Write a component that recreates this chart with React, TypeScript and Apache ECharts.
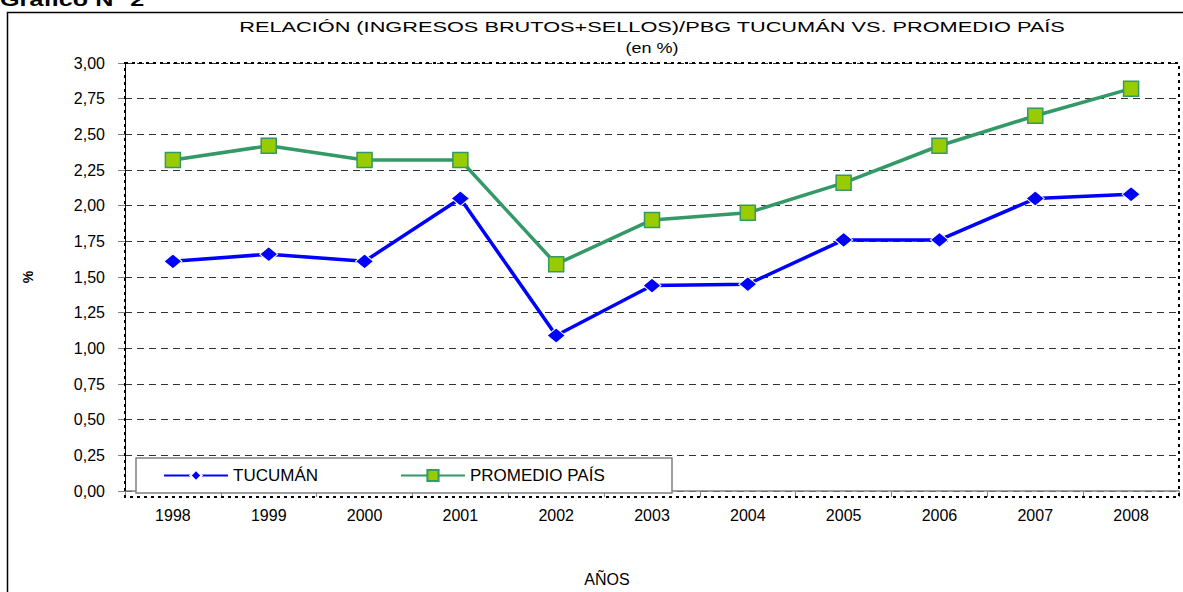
import React, { useEffect, useRef } from "react";
import * as echarts from "echarts";

const years = ["1998", "1999", "2000", "2001", "2002", "2003", "2004", "2005", "2006", "2007", "2008"];
const tucuman = [1.61, 1.66, 1.61, 2.05, 1.09, 1.44, 1.45, 1.76, 1.76, 2.05, 2.08];
const promedio = [2.32, 2.42, 2.32, 2.32, 1.59, 1.9, 1.95, 2.16, 2.42, 2.63, 2.82];
const titleText = "RELACIÓN (INGRESOS BRUTOS+SELLOS)/PBG TUCUMÁN VS. PROMEDIO PAÍS";
const subtitleText = "(en %)";
const chartLabel = "Gráfico N° 2";

const FONT = "'Liberation Sans', Arial, sans-serif";

export default function App() {
  const ref = useRef<HTMLDivElement>(null);
  useEffect(() => {
    document.body.style.margin = "0";
    const chart = echarts.init(ref.current!, null, { renderer: "svg" });
    const gl = 125, gt = 63, gr = 1179, gb = 497;
    chart.setOption({
      animation: false,
      backgroundColor: "#fff",
      textStyle: { fontFamily: FONT },
      grid: { left: gl, top: gt, right: 1183 - gr, bottom: 592 - gb },
      xAxis: {
        type: "category",
        data: years,
        boundaryGap: true,
        axisLine: { show: true, lineStyle: { color: "#808080", width: 1.5 } },
        axisTick: { show: true, interval: 0, length: 6, lineStyle: { color: "#808080" } },
        axisLabel: { color: "#000", fontSize: 16, margin: 16, fontFamily: FONT },
        name: "AÑOS",
        nameLocation: "middle",
        nameGap: 80,
        nameTextStyle: { color: "#000", fontSize: 16, fontFamily: FONT, padding: [0, 90, 0, 0] },
      },
      yAxis: {
        type: "value",
        min: 0,
        max: 3,
        interval: 0.25,
        axisLine: { show: true, lineStyle: { color: "#000", width: 1 } },
        axisTick: { show: true, length: 7, lineStyle: { color: "#808080" } },
        axisLabel: {
          color: "#000",
          fontSize: 16,
          margin: 20,
          fontFamily: FONT,
          formatter: (v: number) => v.toFixed(2).replace(".", ","),
        },
        splitLine: { show: true, lineStyle: { color: "#333", width: 1, type: [7, 5] } },
        name: "%",
        nameLocation: "middle",
        nameGap: 90,
        nameRotate: 90,
        nameTextStyle: { color: "#000", fontSize: 14, fontWeight: "bold", fontFamily: FONT },
      },
      legend: [
        {
          data: ["TUCUMÁN"],
          left: 163,
          top: 467,
          itemWidth: 64,
          itemHeight: 14,
          padding: 0,
          z: 10,
          textStyle: { color: "#000", fontSize: 17, fontFamily: FONT },
        },
        {
          data: ["PROMEDIO PAÍS"],
          left: 400,
          top: 467,
          itemWidth: 64,
          itemHeight: 14,
          padding: 0,
          z: 10,
          textStyle: { color: "#000", fontSize: 17, fontFamily: FONT },
        },
      ],
      graphic: [
        {
          type: "rect",
          z: 0,
          silent: true,
          shape: { x: 7.5, y: 12.5, width: 1400, height: 800 },
          style: { fill: "none", stroke: "#000", lineWidth: 1.5 },
        },
        {
          type: "text",
          x: 0,
          y: 9,
          scaleX: 1.4,
          style: { text: chartLabel, font: `bold 18px ${FONT}`, fill: "#000", verticalAlign: "bottom" },
        },
        {
          type: "text",
          x: 652,
          y: 27,
          scaleX: 1.45,
          style: { text: titleText, font: `15px ${FONT}`, fill: "#000", align: "center", verticalAlign: "middle" },
        },
        {
          type: "text",
          x: 652,
          y: 48,
          scaleX: 1.2,
          style: { text: subtitleText, font: `15px ${FONT}`, fill: "#000", align: "center", verticalAlign: "middle" },
        },
        {
          type: "rect",
          z: 1,
          silent: true,
          shape: { x: gl, y: gt, width: gr - gl, height: gb - gt },
          style: { fill: "none", stroke: "#000", lineWidth: 2, lineDash: [3, 4] },
        },
        {
          type: "rect",
          z: 3,
          silent: true,
          shape: { x: 136, y: 458, width: 536, height: 35 },
          style: { fill: "#fff", stroke: "#808080", lineWidth: 1.5 },
        },
      ],
      series: [
        {
          name: "TUCUMÁN",
          type: "line",
          data: tucuman,
          z: 5,
          symbol: "diamond",
          symbolSize: [18, 15],
          lineStyle: { color: "#0000FF", width: 3.5 },
          itemStyle: { color: "#0000FF", borderColor: "#fff", borderWidth: 1 },
        },
        {
          name: "PROMEDIO PAÍS",
          type: "line",
          data: promedio,
          z: 4,
          symbol: "rect",
          symbolSize: 15,
          lineStyle: { color: "#339966", width: 3.5 },
          itemStyle: { color: "#99CC00", borderColor: "#339966", borderWidth: 1.5 },
        },
      ],
    });
    return () => chart.dispose();
  }, []);
  return <div ref={ref} style={{ position: "absolute", left: 0, top: 0, width: 1183, height: 592 }} />;
}
